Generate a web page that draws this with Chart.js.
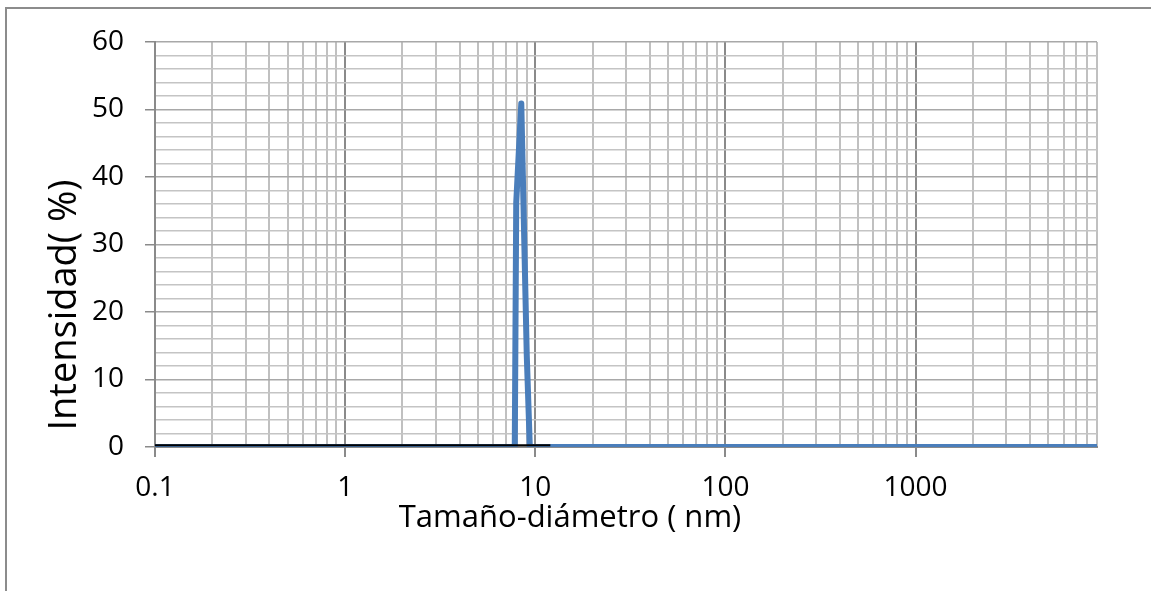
<!DOCTYPE html>
<html>
<head>
<meta charset="utf-8">
<script src="https://cdn.jsdelivr.net/npm/chart.js@4.4.1/dist/chart.umd.min.js"></script>
<style>
  body { margin: 0; background: #fff; }
  #wrap { position: relative; width: 1151px; height: 591px; overflow: hidden; }
  #frame { position: absolute; left: 5px; top: 7px; width: 1200px; height: 700px; border: 2px solid #8c8c8c; }
  canvas { position: absolute; left: 0; top: 0; }
</style>
</head>
<body>
<div id="wrap">
  <div id="frame"></div>
  <canvas id="chart" width="1151" height="591"></canvas>
</div>
<script>
// size distribution
const sizes = [0.1, 1, 4.6, 7.8, 7.94, 8.44, 9.02, 9.36, 9000];
const intensity = [0, 0, 0, 0, 36.2, 50.9, 13.6, 0, 0];

// thin black baseline series
const baseSizes = [0.1, 12];
const baseValues = [0.25, 0.25];

const decades = [0.1, 1, 10, 100, 1000];
const xTickLabels = ['0.1', '1', '10', '100', '1000'];
const yTickLabels = ['0', '10', '20', '30', '40', '50', '60'];

const FONT = '"Open Sans", sans-serif';

const isDecade = v => Math.abs(Math.log10(v) - Math.round(Math.log10(v))) < 1e-9;

// axis titles drawn by hand, they are not centred on the plot in the original
const titles = {
  id: 'titles',
  afterDraw(chart) {
    const c = chart.ctx;
    c.save();
    c.fillStyle = '#000';
    c.textAlign = 'center';
    c.textBaseline = 'alphabetic';
    c.font = '31px ' + FONT;
    c.fillText('Tamaño-diámetro ( nm)', 570, 527);
    c.translate(76, 305);
    c.rotate(-Math.PI / 2);
    c.font = '38px ' + FONT;
    c.fillText('Intensidad( %)', 0, 0);
    c.restore();
  }
};

const ctx = document.querySelector('#chart').getContext('2d');

new Chart(ctx, {
  type: 'line',
  data: {
    datasets: [
      {
        label: 'base',
        data: baseSizes.map((s, i) => ({x: s, y: baseValues[i]})),
        borderColor: '#000',
        borderWidth: 2,
        pointRadius: 0,
        order: 0
      },
      {
        label: 'Intensidad',
        data: sizes.map((s, i) => ({x: s, y: intensity[i]})),
        borderColor: '#4a7ebb',
        borderWidth: 6,
        borderJoinStyle: 'round',
        borderCapStyle: 'round',
        pointRadius: 0,
        tension: 0,
        order: 1
      }
    ]
  },
  options: {
    responsive: false,
    animation: false,
    layout: { padding: { left: 0, top: 42, right: 54, bottom: 0 } },
    plugins: { legend: { display: false }, tooltip: { enabled: false } },
    scales: {
      x: {
        type: 'logarithmic',
        min: 0.1,
        max: 9000,
        afterBuildTicks: scale => {
          const t = [];
          decades.forEach(d => {
            for (let m = 1; m <= 9; m++) {
              const v = +(m * d).toPrecision(6);
              if (v <= 9000) t.push({ value: v });
            }
          });
          scale.ticks = t;
        },
        afterFit: scale => { scale.height = 144; },
        ticks: {
          autoSkip: false,
          maxRotation: 0,
          padding: 14,
          color: '#000',
          font: { family: FONT, size: 28 },
          callback: v => {
            const i = decades.findIndex(d => Math.abs(d - v) < 1e-9);
            return i >= 0 ? xTickLabels[i] : '';
          }
        },
        grid: {
          color: c => isDecade(c.tick.value) ? '#8a8a8a' : '#c0c0c0',
          tickColor: c => isDecade(c.tick.value) ? '#8a8a8a' : 'rgba(0,0,0,0)',
          lineWidth: 2,
          tickLength: 10
        },
        border: { color: '#8a8a8a', width: 2 }
      },
      y: {
        min: 0,
        max: 60,
        afterFit: scale => { scale.width = 155; },
        ticks: {
          stepSize: 2,
          autoSkip: false,
          padding: 21,
          color: '#000',
          font: { family: FONT, size: 28 },
          callback: v => v % 10 === 0 ? yTickLabels[v / 10] : ''
        },
        grid: {
          color: c => c.tick.value % 10 === 0 ? '#a8a8a8' : '#c4c4c4',
          tickColor: c => c.tick.value % 10 === 0 ? '#8a8a8a' : 'rgba(0,0,0,0)',
          lineWidth: 1.5,
          tickLength: 10
        },
        border: { color: '#8a8a8a', width: 2 }
      }
    }
  },
  plugins: [titles]
});
</script>
</body>
</html>
